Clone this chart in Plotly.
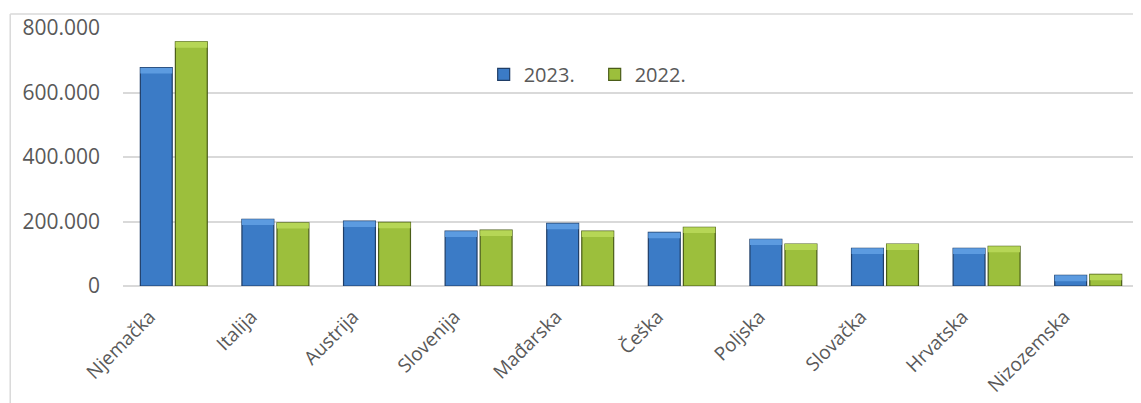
import plotly.graph_objects as go

categories = ["Njemačka", "Italija", "Austrija", "Slovenija", "Mađarska",
              "Češka", "Poljska", "Slovačka", "Hrvatska", "Nizozemska"]
values_2023 = [677000, 207000, 201000, 170000, 194000, 166000, 145000, 117000, 117000, 33000]
values_2022 = [757000, 196000, 197000, 173000, 170000, 182000, 130000, 130000, 123000, 36000]
series_names = ["2023.", "2022."]
y_ticks = [0, 200000, 400000, 600000, 800000]

FONT = "Open Sans"
TXT = "#595959"
CAP = 18000  # height of the lighter bevel strip, in data units

fig = go.Figure()
fig.add_trace(go.Bar(
    x=categories, y=values_2023, name=series_names[0], offsetgroup="a",
    marker=dict(color="#3b7bc6", line=dict(color="#1f3d66", width=1.2)),
))
fig.add_trace(go.Bar(
    x=categories, y=values_2022, name=series_names[1], offsetgroup="b",
    marker=dict(color="#9cbf3c", line=dict(color="#4a5c18", width=1.2)),
))
# lighter bevel caps on top of each bar
fig.add_trace(go.Bar(
    x=categories, y=[CAP] * len(values_2023), base=[v - CAP for v in values_2023],
    offsetgroup="a", showlegend=False, hoverinfo="skip",
    marker=dict(color="#5c9be0", line=dict(width=0)),
))
fig.add_trace(go.Bar(
    x=categories, y=[CAP] * len(values_2022), base=[v - CAP for v in values_2022],
    offsetgroup="b", showlegend=False, hoverinfo="skip",
    marker=dict(color="#b6d656", line=dict(width=0)),
))

fig.update_layout(
    width=1133, height=395,
    margin=dict(l=115, r=2, t=20, b=117),
    paper_bgcolor="white", plot_bgcolor="white",
    separators=",.",
    barmode="group", bargap=0.31, bargroupgap=0.09,
    font=dict(family=FONT, color=TXT),
    showlegend=True,
    legend=dict(orientation="h", x=0.355, xanchor="left", y=0.82, yanchor="middle",
                font=dict(family=FONT, size=20, color=TXT),
                bgcolor="rgba(0,0,0,0)", itemwidth=30, traceorder="normal",
                entrywidth=66),
    xaxis=dict(tickangle=-45, tickfont=dict(family=FONT, size=19, color=TXT),
               showgrid=False, showline=False, ticks="",
               ticklabelstandoff=15, ticklabelshift=-24),
    yaxis=dict(range=[0, 800000], tickvals=y_ticks, tickformat=",d",
               tickfont=dict(family=FONT, size=21, color=TXT),
               showgrid=True, gridcolor="#d9d9d9", gridwidth=1.5,
               zeroline=True, zerolinecolor="#d9d9d9", zerolinewidth=1.5,
               showline=False, ticks="", ticklabelstandoff=22),
    shapes=[
        dict(type="line", xref="paper", yref="paper", x0=-0.111, x1=-0.111, y0=-0.5, y1=1.054,
             line=dict(color="#d9d9d9", width=1.5)),
        dict(type="line", xref="paper", yref="paper", x0=-0.111, x1=1.02, y0=1.054, y1=1.054,
             line=dict(color="#d9d9d9", width=1.5)),
    ],
)

fig.write_html("out.html")
